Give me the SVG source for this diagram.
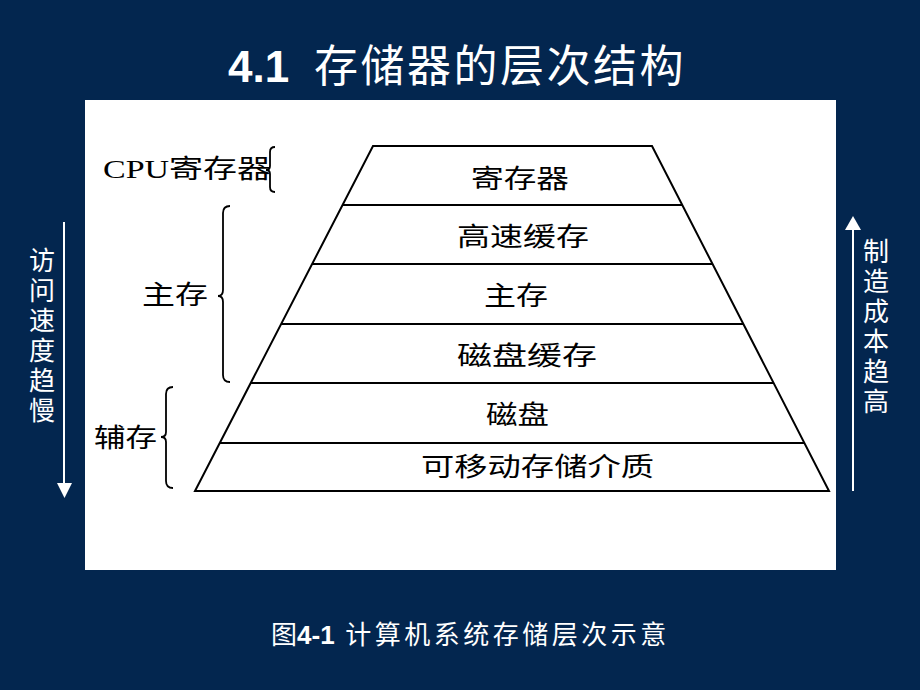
<svg xmlns="http://www.w3.org/2000/svg" width="920" height="690" viewBox="0 0 920 690">
<style>
.cjk{font-family:"Liberation Serif","Noto Sans CJK SC",serif;fill:#000;font-size:26px}
.wt{font-family:"Liberation Sans","Noto Sans CJK SC",sans-serif;fill:#fff}
.ln{stroke:#000;stroke-width:2;fill:none}
.br{stroke:#000;stroke-width:1.8;fill:none}
</style>
<rect x="0" y="0" width="920" height="690" fill="#03264f"/>
<text class="wt" x="228" y="82" font-size="44"><tspan font-weight="bold">4.1</tspan><tspan dx="10" letter-spacing="2.5">  存储器的层次结构</tspan></text>
<rect x="85" y="100" width="751" height="470" fill="#fff"/>
<g id="pyramid">
<polygon class="ln" points="373,146 652,146 829,491 195,491"/>
<line class="ln" x1="343" y1="205" x2="682" y2="205"/>
<line class="ln" x1="312" y1="264" x2="712" y2="264"/>
<line class="ln" x1="281" y1="324" x2="743" y2="324"/>
<line class="ln" x1="251" y1="383" x2="774" y2="383"/>
<line class="ln" x1="220" y1="443" x2="804" y2="443"/>
</g>
<g id="n1"><text class="cjk" x="471" y="188" textLength="98" lengthAdjust="spacingAndGlyphs">寄存器</text></g>
<g id="n2"><text class="cjk" x="457" y="246" textLength="132" lengthAdjust="spacingAndGlyphs">高速缓存</text></g>
<g id="n3"><text class="cjk" x="484" y="305" textLength="64" lengthAdjust="spacingAndGlyphs">主存</text></g>
<g id="n4"><text class="cjk" x="457" y="365" textLength="140" lengthAdjust="spacingAndGlyphs">磁盘缓存</text></g>
<g id="n5"><text class="cjk" x="486" y="424" textLength="63" lengthAdjust="spacingAndGlyphs">磁盘</text></g>
<g id="n6"><text class="cjk" x="421" y="476" textLength="233" lengthAdjust="spacingAndGlyphs">可移动存储介质</text></g>
<g id="cpu">
<text class="cjk" x="103" y="178" textLength="168" lengthAdjust="spacingAndGlyphs">CPU寄存器</text>
<path class="br" d="M275,147 Q270,147 270,152 L270,166 Q270,170 266,170 Q270,170 270,174 L270,187 Q270,192 275,192"/>
</g>
<g id="main">
<text class="cjk" x="142" y="304" textLength="66" lengthAdjust="spacingAndGlyphs">主存</text>
<path class="br" d="M230,206 Q223,206 223,213 L223,290 Q223,296 218,296 Q223,296 223,302 L223,375 Q223,382 230,382"/>
</g>
<g id="aux">
<text class="cjk" x="94" y="447" textLength="63" lengthAdjust="spacingAndGlyphs">辅存</text>
<path class="br" d="M173,387 Q166,387 166,394 L166,432 Q166,437 161,437 Q166,437 166,442 L166,481 Q166,488 173,488"/>
</g>
<g id="connectors">
<line x1="64" y1="222" x2="64" y2="484" stroke="#fff" stroke-width="2"/>
<polygon points="57,483 72,483 64.5,498" fill="#fff"/>
<line x1="853" y1="228" x2="853" y2="491" stroke="#fff" stroke-width="2"/>
<polygon points="845,230 861,230 853,216" fill="#fff"/>
</g>
<g id="left-text">
<text class="wt" font-size="26" text-anchor="middle" x="42" y="270">访<tspan x="42" dy="30">问</tspan><tspan x="42" dy="30">速</tspan><tspan x="42" dy="30">度</tspan><tspan x="42" dy="30">趋</tspan><tspan x="42" dy="30">慢</tspan></text>
</g>
<g id="right-text">
<text class="wt" font-size="26" text-anchor="middle" x="876" y="261">制<tspan x="876" dy="30">造</tspan><tspan x="876" dy="30">成</tspan><tspan x="876" dy="30">本</tspan><tspan x="876" dy="30">趋</tspan><tspan x="876" dy="30">高</tspan></text>
</g>
<text class="wt" x="271" y="644" font-size="26">图<tspan font-weight="bold">4-1</tspan><tspan letter-spacing="3.5">  计算机系统存储层次示意</tspan></text>
</svg>
